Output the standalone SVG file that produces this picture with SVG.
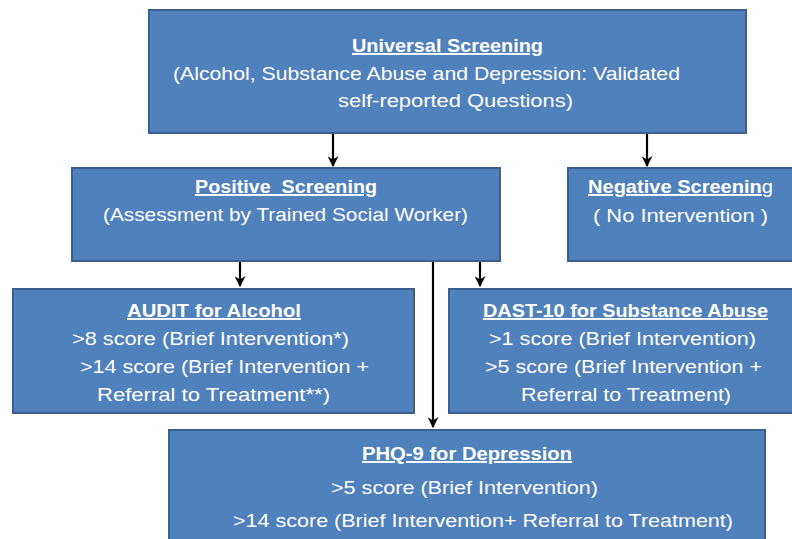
<svg xmlns="http://www.w3.org/2000/svg" width="792" height="539" viewBox="0 0 792 539">
<defs>
<style>
.box{fill:#4F81BD;stroke:#3A6090;stroke-width:2}
.t{font-family:"Liberation Sans","Open Sans",sans-serif;font-size:19px;fill:#FFFFFF}
.b{font-weight:bold}
.u{text-decoration:underline}
.c{stroke:#000;stroke-width:2.2;fill:none}
</style>
<marker id="ah" viewBox="0 0 10 10" refX="9" refY="5" markerWidth="5" markerHeight="5" orient="auto" markerUnits="strokeWidth">
<path d="M0,0 L10,5 L0,10 L3,5 Z" fill="#000"/>
</marker>
</defs>
<rect width="792" height="539" fill="#FFFFFF"/>
<g id="connectors">
<line class="c" x1="333" y1="133" x2="333" y2="166" marker-end="url(#ah)"/>
<line class="c" x1="647" y1="133" x2="647" y2="166" marker-end="url(#ah)"/>
<line class="c" x1="240" y1="261" x2="240" y2="286" marker-end="url(#ah)"/>
<line class="c" x1="480" y1="261" x2="480" y2="286" marker-end="url(#ah)"/>
<line class="c" x1="433" y1="261" x2="433" y2="427" marker-end="url(#ah)"/>
</g>
<g id="universal">
<rect class="box" x="149" y="10" width="597" height="123"/>
<text class="t b u" x="352" y="52" textLength="191" lengthAdjust="spacingAndGlyphs">Universal Screening</text>
<text class="t" x="173" y="80" textLength="507" lengthAdjust="spacingAndGlyphs">(Alcohol, Substance Abuse and Depression: Validated</text>
<text class="t" x="338" y="107" textLength="235" lengthAdjust="spacingAndGlyphs">self-reported Questions)</text>
</g>
<g id="positive">
<rect class="box" x="72" y="168" width="428" height="93"/>
<text class="t b u" x="195" y="193" textLength="182" lengthAdjust="spacingAndGlyphs" xml:space="preserve">Positive  Screening</text>
<text class="t" x="103" y="221" textLength="365" lengthAdjust="spacingAndGlyphs">(Assessment by Trained Social Worker)</text>
</g>
<g id="negative">
<rect class="box" x="568" y="168" width="230" height="93"/>
<text class="t" x="588" y="193" textLength="185" lengthAdjust="spacingAndGlyphs"><tspan class="b u">Negative Screenin</tspan>g</text>
<text class="t" x="593" y="222" textLength="175" lengthAdjust="spacingAndGlyphs">( No Intervention )</text>
</g>
<g id="audit">
<rect class="box" x="13" y="289" width="401" height="124"/>
<text class="t b u" x="127" y="317" textLength="174" lengthAdjust="spacingAndGlyphs">AUDIT for Alcohol</text>
<text class="t" x="72" y="345" textLength="277" lengthAdjust="spacingAndGlyphs">&gt;8 score (Brief Intervention*)</text>
<text class="t" x="80" y="373" textLength="289" lengthAdjust="spacingAndGlyphs">&gt;14 score (Brief Intervention +</text>
<text class="t" x="97" y="401" textLength="233" lengthAdjust="spacingAndGlyphs">Referral to Treatment**)</text>
</g>
<g id="dast">
<rect class="box" x="449" y="289" width="349" height="124"/>
<text class="t b u" x="483" y="317" textLength="285" lengthAdjust="spacingAndGlyphs">DAST-10 for Substance Abuse</text>
<text class="t" x="489" y="345" textLength="267" lengthAdjust="spacingAndGlyphs">&gt;1 score (Brief Intervention)</text>
<text class="t" x="485" y="373" textLength="277" lengthAdjust="spacingAndGlyphs">&gt;5 score (Brief Intervention +</text>
<text class="t" x="521" y="401" textLength="210" lengthAdjust="spacingAndGlyphs">Referral to Treatment)</text>
</g>
<g id="phq">
<rect class="box" x="169" y="430" width="596" height="120"/>
<text class="t b u" x="362" y="460" textLength="210" lengthAdjust="spacingAndGlyphs">PHQ-9 for Depression</text>
<text class="t" x="331" y="494" textLength="267" lengthAdjust="spacingAndGlyphs">&gt;5 score (Brief Intervention)</text>
<text class="t" x="233" y="527" textLength="500" lengthAdjust="spacingAndGlyphs">&gt;14 score (Brief Intervention+ Referral to Treatment)</text>
</g>
</svg>
